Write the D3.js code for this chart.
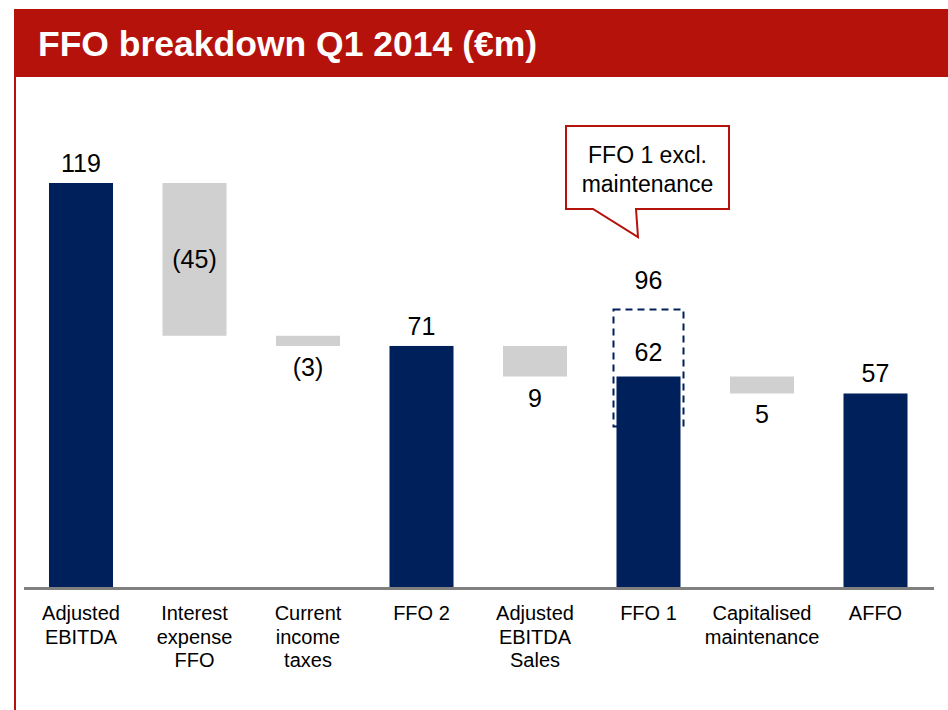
<!DOCTYPE html>
<html>
<head>
<meta charset="utf-8">
<script src="https://cdn.jsdelivr.net/npm/d3@7"></script>
<style>
  html, body { margin: 0; padding: 0; background: #fff; }
  svg { display: block; font-family: "Liberation Sans", Arial, sans-serif; }
</style>
</head>
<body>
<svg id="chart" width="948" height="710"></svg>
<script>
// ---- Data ----
const title = "FFO breakdown Q1 2014 (€m)";
const categories = ["Adjusted EBITDA", "Interest expense FFO", "Current income taxes", "FFO 2",
                    "Adjusted EBITDA Sales", "FFO 1", "Capitalised maintenance", "AFFO"];
const categoryLines = [["Adjusted", "EBITDA"], ["Interest", "expense", "FFO"], ["Current", "income", "taxes"],
                       ["FFO 2"], ["Adjusted", "EBITDA", "Sales"], ["FFO 1"], ["Capitalised", "maintenance"], ["AFFO"]];
const values = [119, -45, -3, 71, -9, 62, -5, 57];
const isTotal = [true, false, false, true, false, true, false, true];
const valueLabels = ["119", "(45)", "(3)", "71", "9", "62", "5", "57"];
const calloutLines = ["FFO 1 excl.", "maintenance"];
const ffo1ExclMaintenance = 96;

// ---- Layout ----
const W = 948, H = 710;
const baseY = 587;
const svg = d3.select("#chart");
const RED = "#B5120C", NAVY = "#00205B", GREY = "#D0D0D0";

// Header bar and frame
svg.append("rect").attr("x", 14).attr("y", 9).attr("width", W - 14).attr("height", 68).attr("fill", RED);
svg.append("rect").attr("x", 14).attr("y", 77).attr("width", 2).attr("height", H - 77).attr("fill", RED);
svg.append("text").attr("x", 38).attr("y", 56).attr("fill", "#fff")
  .attr("font-size", 35.5).attr("font-weight", "bold").text(title);

// Scales
const x = d3.scaleBand().domain(categories).range([24.25, 932.25]).paddingInner(0.436).paddingOuter(0.218);
const y = d3.scaleLinear().domain([0, 119]).range([baseY, 183]);

// Compute waterfall segments
let running = 0;
const segs = categories.map((c, i) => {
  let lo, hi;
  if (isTotal[i]) { lo = 0; hi = values[i]; running = values[i]; }
  else { const prev = running; running = prev + values[i]; lo = Math.min(prev, running); hi = Math.max(prev, running); }
  return { c, i, lo, hi, total: isTotal[i], label: valueLabels[i], v: values[i] };
});

// Bars
svg.append("g").selectAll("rect").data(segs).join("rect")
  .attr("x", d => x(d.c))
  .attr("width", x.bandwidth())
  .attr("y", d => y(d.hi))
  .attr("height", d => y(d.lo) - y(d.hi))
  .attr("fill", d => d.total ? NAVY : GREY);

// Axis baseline
const axis = d3.axisBottom(x).tickSize(0).tickFormat("");
const gAxis = svg.append("g").attr("transform", `translate(0,${baseY + 1.5})`).call(axis);
gAxis.select(".domain").attr("stroke", "#808080").attr("stroke-width", 3)
  .attr("d", `M${24},0H${934}`);

// Category labels
const gCat = svg.append("g");
categories.forEach((c, i) => {
  const t = gCat.append("text").attr("text-anchor", "middle").attr("font-size", 20).attr("fill", "#000")
    .attr("x", x(c) + x.bandwidth() / 2).attr("y", 620);
  categoryLines[i].forEach((ln, j) => {
    t.append("tspan").attr("x", x(c) + x.bandwidth() / 2).attr("dy", j === 0 ? 0 : 23.5).text(ln);
  });
});

// Value labels
const cx = c => x(c) + x.bandwidth() / 2;
const ffo1 = categories[5];
const labelY = d => {
  if (d.total && d.i === 5) return y(d.hi) - 16;       // inside dashed box
  if (d.total) return y(d.hi) - 11;                     // above bar
  if (d.i === 1) return (y(d.hi) + y(d.lo)) / 2 + 9;    // inside big bar
  return y(d.lo) + 30;                                  // below small bar
};
svg.append("g").selectAll("text").data(segs).join("text")
  .attr("text-anchor", "middle").attr("font-size", 25).attr("fill", "#000")
  .attr("x", d => cx(d.c)).attr("y", labelY).text(d => d.label);

// Dashed annotation box around FFO 1
const boxTop = y(values[5]) - 67, boxBottom = y(values[5]) + 50;
svg.append("rect")
  .attr("x", x(ffo1) - 3).attr("width", x.bandwidth() + 6)
  .attr("y", boxTop).attr("height", boxBottom - boxTop)
  .attr("fill", "none").attr("stroke", NAVY).attr("stroke-width", 2).attr("stroke-dasharray", "7,5");
svg.append("text").attr("text-anchor", "middle").attr("font-size", 25).attr("fill", "#000")
  .attr("x", cx(ffo1)).attr("y", boxTop - 21).text(ffo1ExclMaintenance);

// Callout
const cL = 566, cR = 729, cT = 126, cB = 209;
svg.append("path")
  .attr("d", `M${cL},${cT}H${cR}V${cB}H${636}L${638},${237}L${593},${cB}H${cL}Z`)
  .attr("fill", "#fff").attr("stroke", RED).attr("stroke-width", 2);
calloutLines.forEach((ln, j) => {
  svg.append("text").attr("text-anchor", "middle").attr("font-size", 23).attr("fill", "#000")
    .attr("x", (cL + cR) / 2).attr("y", 163 + j * 29).text(ln);
});
</script>
</body>
</html>
